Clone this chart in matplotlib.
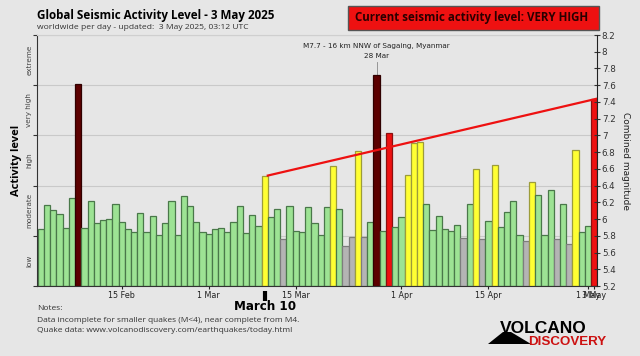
import numpy as np
import matplotlib
matplotlib.use("Agg")
import matplotlib.pyplot as plt
from matplotlib.patches import Rectangle, Polygon
from matplotlib.ticker import FormatStrFormatter

# Daily combined magnitude, 2 Feb .. 2 May 2025
start = np.datetime64("2025-02-02")
magnitudes = [5.88, 6.17, 6.11, 6.06, 5.89, 6.25, 7.62, 5.89, 6.21, 5.95,
              5.99, 6.00, 6.18, 5.97, 5.88, 5.85, 6.07, 5.84, 6.04, 5.81,
              5.95, 6.21, 5.81, 6.27, 6.16, 5.97, 5.84, 5.82, 5.88, 5.89,
              5.84, 5.96, 6.16, 5.83, 6.05, 5.92, 6.52, 6.02, 6.12, 5.76,
              6.16, 5.86, 5.84, 6.15, 5.95, 5.81, 6.15, 6.63, 6.12, 5.68,
              5.79, 6.81, 5.79, 5.96, 7.72, 5.86, 7.03, 5.90, 6.02, 6.53,
              6.91, 6.92, 6.18, 5.87, 6.04, 5.88, 5.86, 5.93, 5.77, 6.18,
              6.60, 5.76, 5.98, 6.65, 5.91, 6.09, 6.22, 5.81, 5.74, 6.44,
              6.29, 5.81, 6.35, 5.76, 6.18, 5.70, 6.83, 5.85, 5.92, 7.44]
dates = start + np.arange(len(magnitudes)).astype("timedelta64[D]")

# activity levels (band boundaries in magnitude)
level_names = ["low", "moderate", "high", "very high", "extreme"]
level_bounds = [5.2, 5.8, 6.4, 7.0, 7.6, 8.2]
level_colors = ["#b4b4b4", "#9de394", "#ffff33", "#ee1111", "#5c0000"]
level_edges = ["#7d7d7d", "#4a784a", "#9c9c3a", "#8a1010", "#300000"]

tick_dates = ["2025-02-15", "2025-03-01", "2025-03-15", "2025-04-01",
              "2025-04-15", "2025-05-01", "2025-05-02"]
tick_labels = ["15 Feb", "1 Mar", "15 Mar", "1 Apr", "15 Apr", "1 May", "3 May"]

trend_start = np.datetime64("2025-03-10")
quake_date = np.datetime64("2025-03-28")
quake_text = "M7.7 - 16 km NNW of Sagaing, Myanmar"

bg = "#e6e6e6"
fig = plt.figure(figsize=(6.4, 3.56), dpi=100, facecolor=bg)
W, H = 640, 356
ax = fig.add_axes([37 / W, 70 / H, 560 / W, 251 / H], facecolor=bg)

# colour of each bar from its level
idx = np.clip(np.searchsorted(level_bounds, magnitudes, side="right") - 1, 0, 4)
colors = [level_colors[i] for i in idx]
edges = [level_edges[i] for i in idx]
ax.bar(dates, np.array(magnitudes) - 5.2, bottom=5.2, width=1.0,
       color=colors, edgecolor=edges, linewidth=0.9, zorder=2)

# trend line from 10 Mar to the current day
i0 = int((trend_start - start).astype(int))
tx = [dates[i0] + np.timedelta64(12, "h"), dates[-1] + np.timedelta64(12, "h")]
ax.plot(tx, [magnitudes[i0], magnitudes[-1]], color="#ee1111", lw=1.6, zorder=3)

# biggest quake annotation
iq = int((quake_date - start).astype(int))
ax.plot([dates[iq], dates[iq]], [magnitudes[iq], 7.88], color="#888888", lw=0.6, zorder=1)
ax.text(dates[iq], 8.07, quake_text, ha="center", va="center", fontsize=5.2, color="#222222")
ax.text(dates[iq], 7.95, "28 Mar", ha="center", va="center", fontsize=5.2, color="#222222")

ax.set_ylim(5.2, 8.2)
ax.set_xlim(start - np.timedelta64(15, "h"), dates[-1] + np.timedelta64(11, "h"))
ax.set_yticks(level_bounds)
ax.set_yticklabels([])
ax.yaxis.grid(True, color="#c9c9c9", lw=0.8)
ax.set_axisbelow(True)
ax.tick_params(axis="y", length=3, color="#333333")
ax.set_xticks([np.datetime64(d) for d in tick_dates])
ax.set_xticklabels(tick_labels)
ax.tick_params(axis="x", direction="inout", length=5, labelsize=5.8,
               colors="#222222", pad=1)
for s in ["left", "bottom"]:
    ax.spines[s].set_color("#333333")
ax.spines["top"].set_color("#cfcfcf")
ax.spines["right"].set_visible(False)

# level names on the left
for k, name in enumerate(level_names):
    mid = (level_bounds[k] + level_bounds[k + 1]) / 2
    ax.text(-0.014, mid, name, transform=ax.get_yaxis_transform(), rotation=90,
            ha="center", va="center", fontsize=5.2, color="#444444")
ax.text(-0.036, 6.7, "Activity level", transform=ax.get_yaxis_transform(),
        rotation=90, ha="center", va="center", fontsize=8, fontweight="bold",
        family="Open Sans")

# right magnitude axis
ax2 = ax.twinx()
ax2.set_ylim(5.2, 8.2)
ax2.set_yticks(np.round(np.arange(5.2, 8.21, 0.2), 1))
ax2.yaxis.set_major_formatter(FormatStrFormatter("%g"))
ax2.tick_params(axis="y", direction="inout", length=5, labelsize=6.3,
                colors="#333333", pad=1)
for s in ["left", "top", "bottom"]:
    ax2.spines[s].set_visible(False)
ax2.spines["right"].set_color("#222222")
ax2.set_ylabel("Combined magnitude", rotation=270, fontsize=6.5, labelpad=10,
               color="#222222")

# March 10 marker under the axis
xt = ax.get_xaxis_transform()
ax.plot([trend_start], [-0.038], marker="|", markersize=7, mew=3, color="black",
        transform=xt, clip_on=False)
ax.text(trend_start, -0.08, "March 10", transform=xt, ha="center", va="center",
        fontsize=9.5, fontweight="bold", family="DejaVu Sans",
        fontstretch="condensed")

# titles
fig.text(37 / W, 1 - 16 / H, "Global Seismic Activity Level - 3 May 2025",
         fontsize=8.4, fontweight="bold", family="Open Sans", va="center")
fig.text(37 / W, 1 - 27.5 / H, "worldwide per day - updated:  3 May 2025, 03:12 UTC",
         fontsize=6.1, family="Open Sans", color="#333333", va="center")

fig.patches.append(Rectangle((348 / W, 1 - 30 / H), 251 / W, 24 / H,
                             transform=fig.transFigure, fc="#ee1111",
                             ec="#555555", lw=1))
fig.text(472 / W, 1 - 18 / H, "Current seismic activity level: VERY HIGH",
         ha="center", va="center", fontsize=8.3, fontweight="bold",
         family="Open Sans", color="#2a0000")

# notes
notes = ["Notes:",
         "Data incomplete for smaller quakes (M<4), near complete from M4.",
         "Quake data: www.volcanodiscovery.com/earthquakes/today.html"]
for k, line in enumerate(notes):
    fig.text(37 / W, 1 - (309 + 11 * k) / H, line, fontsize=6.0,
             family="Open Sans", color="#333333", va="center")

# logo
fig.patches.append(Polygon([(488 / W, 1 - 344 / H), (503 / W, 1 - 332 / H),
                            (511 / W, 1 - 332 / H), (531 / W, 1 - 344 / H)],
                           closed=True, transform=fig.transFigure, fc="black"))
fig.text(500 / W, 1 - 333 / H, "VOLCANO", fontsize=12.5, fontweight="bold",
         family="Liberation Sans", color="black", va="baseline")
fig.text(528 / W, 1 - 345 / H, "DISCOVERY", fontsize=9.6, fontweight="bold",
         family="Liberation Sans", color="#cc1111", va="baseline")

fig.savefig("out.png", dpi=100, facecolor=bg)
